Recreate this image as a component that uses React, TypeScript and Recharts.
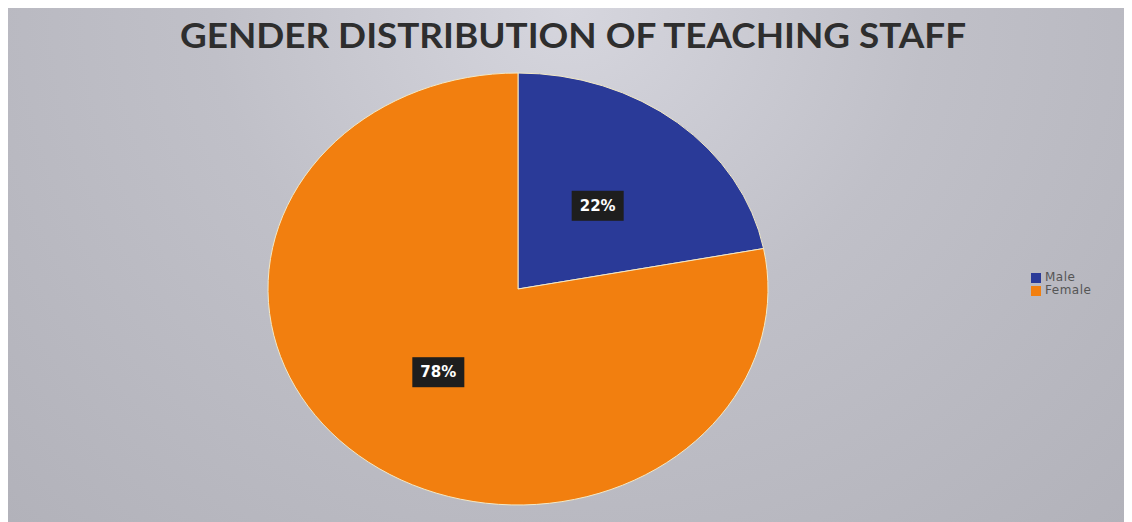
import { PieChart, Pie, Sector, Legend } from 'recharts'

const genders = ['Male', 'Female']
const shares = [22, 78]
const COLORS = ['#2a3a98', '#f27f0f']

const chartData = genders.map((name, i) => ({ name, value: shares[i], fill: COLORS[i] }))

const RAD = Math.PI / 180
// the source pie is drawn a bit wider than tall
const SX = 250 / 216

const EllipseSector = (props: any) => {
  const { cx, cy, innerRadius, outerRadius, startAngle, endAngle, fill } = props
  return (
    <g transform={`translate(${cx} ${cy}) scale(${SX} 1) translate(${-cx} ${-cy})`}>
      <Sector
        cx={cx}
        cy={cy}
        innerRadius={innerRadius}
        outerRadius={outerRadius}
        startAngle={startAngle}
        endAngle={endAngle}
        fill={fill}
        stroke="#f3e9c6"
        strokeWidth={1}
        vectorEffect="non-scaling-stroke"
      />
    </g>
  )
}

const renderLabel = (props: any) => {
  const { cx, cy, midAngle, outerRadius, value } = props
  const x = cx + 0.5 * outerRadius * SX * Math.cos(-midAngle * RAD)
  const y = cy + 0.5 * outerRadius * Math.sin(-midAngle * RAD)
  return (
    <g>
      <rect x={x - 26} y={y - 15} width={52} height={30} fill="#1e1e1e" />
      <text
        x={x}
        y={y + 5}
        textAnchor="middle"
        fill="#fff"
        fontFamily="DejaVu Sans"
        fontWeight="bold"
        fontSize={15}
      >
        {`${value}%`}
      </text>
    </g>
  )
}

export default function App() {
  return (
    <div
      style={{
        position: 'relative',
        marginLeft: -1,
        marginTop: -1,
        width: 1125,
        height: 515,
        background: 'radial-gradient(ellipse at 50% 0%, #d6d6de 0%, #c0c0c8 45%, #b2b2ba 100%)',
      }}
    >
      <svg width={1125} height={60} style={{ position: 'absolute', left: 0, top: 0 }}>
        <text
          x={566}
          y={41}
          textAnchor="middle"
          fontFamily="Lato"
          fontWeight="bold"
          fontSize={35}
          fill="#2e2e2e"
          textLength={786}
          lengthAdjust="spacingAndGlyphs"
        >
          GENDER DISTRIBUTION OF TEACHING STAFF
        </text>
      </svg>
      <PieChart
        width={1125}
        height={515}
        margin={{ top: 0, right: 0, bottom: 0, left: 0 }}
        style={{ position: 'absolute', left: 0, top: 0 }}
      >
        <Pie
          data={chartData}
          dataKey="value"
          nameKey="name"
          cx={511}
          cy={282}
          outerRadius={216}
          startAngle={90}
          endAngle={-270}
          shape={EllipseSector}
          label={renderLabel}
          labelLine={false}
          isAnimationActive={false}
        />
        <Legend
          layout="vertical"
          iconType="square"
          iconSize={10}
          itemSorter={(item: any) => genders.indexOf(item.value)}
          wrapperStyle={{ position: 'absolute', left: 1024, top: 264, width: 'auto', fontFamily: 'DejaVu Sans', fontSize: 12, lineHeight: '13px', letterSpacing: '0.5px' }}
          formatter={(value) => <span style={{ color: '#555' }}>{value}</span>}
        />
      </PieChart>
    </div>
  )
}
